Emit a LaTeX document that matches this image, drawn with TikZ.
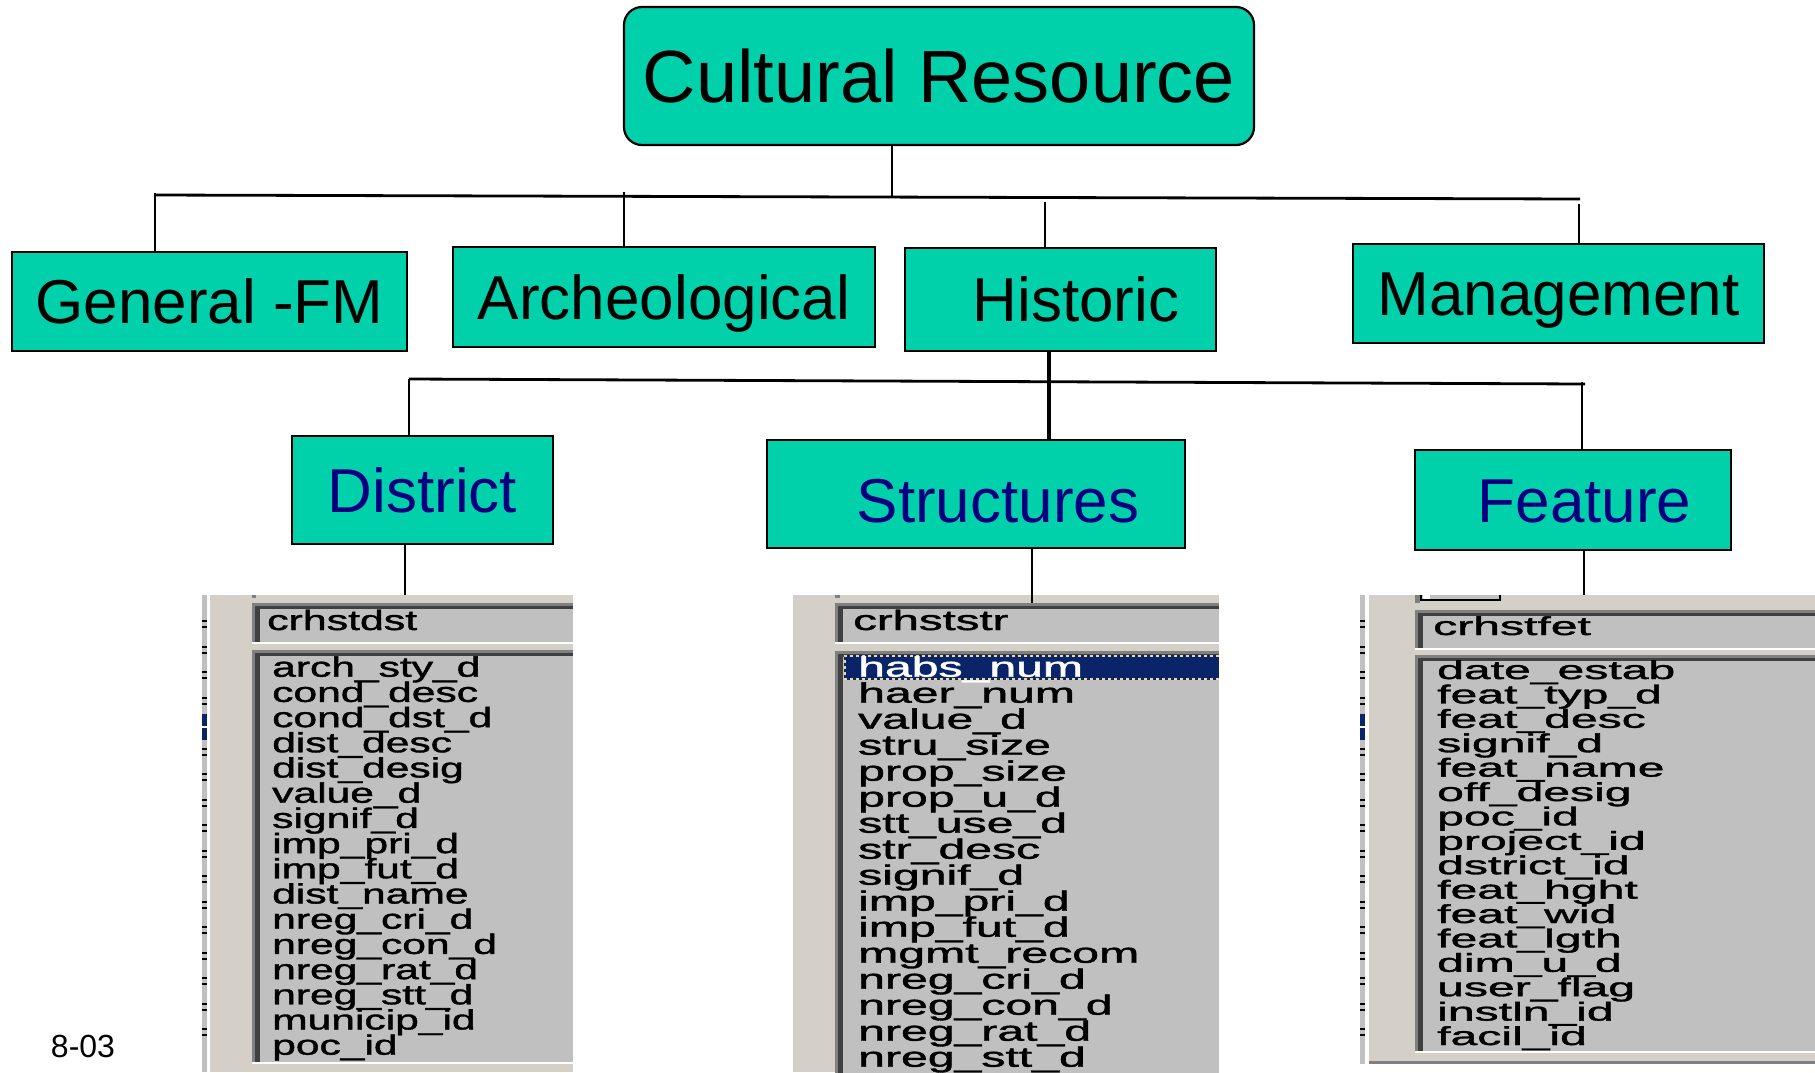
\documentclass[tikz,border=0pt]{standalone}
\usepackage{fontspec}
\setmainfont{Liberation Sans}
\newfontfamily\fieldfont[FakeBold=1.2]{Liberation Sans}
\usepackage{tikz}
\usetikzlibrary{calc}

\definecolor{crteal}{RGB}{0,209,170}
\definecolor{crnavy}{RGB}{0,0,128}
\definecolor{winface}{RGB}{212,208,200}
\definecolor{winsilver}{RGB}{192,192,192}
\definecolor{winshadow}{RGB}{128,128,128}
\definecolor{windark}{RGB}{64,64,64}
\definecolor{winsel}{RGB}{10,36,106}
\definecolor{winfocus}{RGB}{240,216,152}

\newcommand{\fld}[2]{\scalebox{#1}[1]{#2}}

\tikzset{
  topbox/.style={draw, line width=2.2pt, fill=crteal, inner sep=0pt, text depth=0pt},
  midbox/.style={topbox, text height=44.4pt, font=\fontsize{62}{70}\selectfont},
  subbox/.style={midbox, text=crnavy},
  bus/.style={line width=2.8pt},
  stem/.style={line width=1.6pt},
  field/.style={inner sep=0pt, anchor=base west, font=\fieldfont\fontsize{28}{30}\selectfont},
  smallfield/.style={field, font=\fieldfont\fontsize{26}{28}\selectfont},
}

\begin{document}
\begin{tikzpicture}[x=1pt,y=-1pt]
\useasboundingbox (0,0) rectangle (1815,1072);

%% table windows
\fill[winface] (210,595) rectangle (573,1072);
\fill[winface] (793,595) rectangle (1219,1072);
\fill[winface] (1369,595) rectangle (1815,1063);
\fill[white] (1365,595) rectangle (1369,1063);
\fill[winshadow] (1365,1061) rectangle (1815,1064);
\fill[winshadow] (252,595) rectangle (256,598);
\fill[winshadow] (835,595) rectangle (840,598);
% side strips
\foreach \xa/\yb in {201.5/1072, 1360/1064}{
  \fill[winsilver] (\xa,595) rectangle ({\xa+5},\yb);
  \fill[white] ({\xa+5},595) rectangle ({\xa+8.5},\yb);
  \foreach \y in {620,645.5,...,1050}{
    \fill (\xa,\y) rectangle ({\xa+5},{\y+2});
    \fill (\xa,{\y+6}) rectangle ({\xa+5},{\y+8});
  }
  \fill[winsel] (\xa,714) rectangle ({\xa+5},740);
  \fill[white] (\xa,726) rectangle ({\xa+5},728);
}
% sunken boxes
\foreach \xa/\ya/\xb/\yb in {252/603/573/644, 252/650/573/1064, 835/603/1219/644, 835/651/1219/1076, 1415/610/1815/650, 1415/655/1815/1053}{
  \fill[winshadow] (\xa,\ya) rectangle (\xb,\yb);
  \fill[windark] ({\xa+3},{\ya+3}) rectangle (\xb,\yb);
  \fill[winsilver] ({\xa+8},{\ya+6}) rectangle (\xb,{\yb-2});
  \fill[white] (\xa,{\yb-2}) rectangle (\xb,\yb);
}
% button stub
\fill[winshadow] (1415,595) rectangle (1420,603);
\fill[winsilver] (1420,595) rectangle (1502,601);
\fill[white] (1423,595) rectangle (1430,599);
\draw[line width=1.5pt] (1421,595) |- (1500,600) -- (1500,595);

% selected row
\fill[winsel] (844,655) rectangle (1219,680);
\draw[winfocus, line width=2pt, dash pattern=on 3pt off 3pt] (1219,656) -| (845,679) -- (1219,679);

%% field lists
\node[field] (dhead) at (267,630) {\fld{1.53}{crhstdst}};
\foreach \f [count=\i from 0] in {arch\_sty\_d, cond\_desc, cond\_dst\_d, dist\_desc, dist\_desig, value\_d, signif\_d, imp\_pri\_d, imp\_fut\_d, dist\_name, nreg\_cri\_d, nreg\_con\_d, nreg\_rat\_d, nreg\_stt\_d, municip\_id, poc\_id}
  \node[field] (d\i) at (272,{676.7+25.2*\i}) {\fld{1.52}{\f}};

\node[field] (shead) at (853,630) {\fld{1.69}{crhststr}};
\node[field, text=white] (s0) at (858,676.7) {\fld{1.72}{habs\_num}};
\foreach \f [count=\i] in {haer\_num, value\_d, stru\_size, prop\_size, prop\_u\_d, stt\_use\_d, str\_desc, signif\_d, imp\_pri\_d, imp\_fut\_d, mgmt\_recom, nreg\_cri\_d, nreg\_con\_d, nreg\_rat\_d, nreg\_stt\_d}
  \node[field] (s\i) at (858,{676.7+26*\i}) {\fld{1.72}{\f}};

\node[smallfield] (fhead) at (1433,635) {\fld{1.85}{crhstfet}};
\foreach \f [count=\i from 0] in {date\_estab, feat\_typ\_d, feat\_desc, signif\_d, feat\_name, off\_desig, poc\_id, project\_id, dstrict\_id, feat\_hght, feat\_wid, feat\_lgth, dim\_u\_d, user\_flag, instln\_id, facil\_id}
  \node[smallfield] (f\i) at (1437,{679+24.4*\i}) {\fld{1.85}{\f}};

%% boxes
\node[topbox, rounded corners=18pt, minimum width=630pt, minimum height=138pt, text height=53pt, font=\fontsize{74}{80}\selectfont] (cr) at (939,76) {Cultural Resource};

\node[midbox, minimum width=395pt, minimum height=99pt] (gen) at (209.5,301.5) {General -FM};
\node[midbox, minimum width=422pt, minimum height=100pt] (arch) at (664,297) {Archeological};
\node[midbox, minimum width=311pt, minimum height=103pt] (hist) at (1060.5,299.5) {\hspace*{31pt}Historic};
\node[midbox, minimum width=411pt, minimum height=99pt] (mgmt) at (1558.5,293.5) {Management};

\node[subbox, minimum width=261pt, minimum height=108pt] (dst) at (422.5,490) {District};
\node[subbox, minimum width=418pt, minimum height=108pt] (stru) at (976,494) {\hspace*{44pt}\raisebox{-6pt}{Structures}};
\node[subbox, minimum width=316pt, minimum height=100pt] (feat) at (1573,500) {\hspace*{23pt}Feature};

%% tree lines
\coordinate (busL) at (154,195);
\coordinate (busR) at (1580,199);
\draw[bus] (busL) -- (busR);
\coordinate (crx) at (892,196);
\draw[stem] (crx |- cr.south) -- (crx);
\foreach \nm/\x/\y in {gen/155/193, arch/624/192, hist/1045/202, mgmt/1579/204}
  \draw[stem] (\x,\y) coordinate (top\nm) -- (top\nm |- \nm.north);

\coordinate (hbusL) at (409,379);
\coordinate (hbusR) at (1585,384);
\draw[bus] (hbusL) -- (hbusR);
\coordinate (hx) at (1049,380);
\draw[line width=4pt] (hx |- hist.south) -- (hx |- stru.north);
\draw[stem] (hbusL) -- (hbusL |- dst.north);
\coordinate (fx) at (1582,382);
\draw[stem] (fx) -- (fx |- feat.north);

\coordinate (dstp) at (405,595);
\coordinate (strp) at (1032,603);
\coordinate (fetp) at (1584,595);
\draw[stem] (dstp |- dst.south) -- (dstp);
\draw[stem] (strp |- stru.south) -- (strp);
\draw[stem] (fetp |- feat.south) -- (fetp);

\node[font=\fontsize{32}{34}\selectfont, inner sep=0pt] (code) at (83,1046.5) {8-03};
\end{tikzpicture}
\end{document}
